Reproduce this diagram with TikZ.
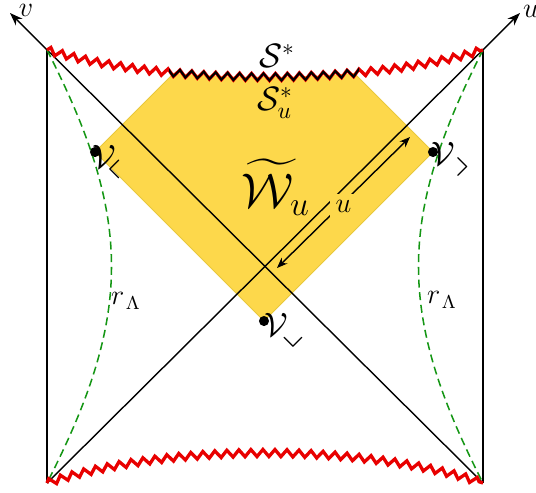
\documentclass[tikz,border=0pt]{standalone}
\usepackage{amssymb}
\usetikzlibrary{decorations.pathmorphing,arrows.meta}
\definecolor{wyellow}{RGB}{253,216,75}
\definecolor{wedge}{RGB}{232,200,60}
\definecolor{rgreen}{RGB}{20,150,20}
\definecolor{sred}{RGB}{232,0,0}
\newcommand{\angL}{\mkern-4mu\raisebox{-1pt}{\rotatebox[origin=c]{-45}{\scalebox{1.5}{$\scriptstyle\llcorner$}}}}
\newcommand{\angR}{\mkern-4mu\raisebox{-1pt}{\rotatebox[origin=c]{45}{\scalebox{1.5}{$\scriptstyle\lrcorner$}}}}
\newcommand{\angB}{\mkern-2mu\raisebox{-1pt}{\rotatebox[origin=c]{45}{\scalebox{1.5}{$\scriptstyle\llcorner$}}}}
\begin{document}
\begin{tikzpicture}[x=0.4255pt,y=-0.4255pt,
  axis/.style={-{Stealth[length=5.5pt,width=4pt]}, line width=0.6pt},
  meas/.style={{Stealth[length=4.5pt,width=3.5pt]}-{Stealth[length=4.5pt,width=3.5pt]}, line width=0.6pt},
  wall/.style={line width=0.55pt},
  rcurve/.style={rgreen, line width=0.65pt, dash pattern=on 3.4pt off 2pt},
  sing/.style={decorate, decoration={zigzag, segment length=5.1pt, amplitude=1.5pt}, line width=1.4pt, draw=sred},
  dot/.style={circle, fill=black, inner sep=0pt, minimum size=4.3pt},
  lab/.style={inner sep=0pt}]
\useasboundingbox (0,0) rectangle (536,492);
\coordinate (TL) at (47,50);
\coordinate (TR) at (483,50);
\coordinate (BL) at (47,483);
\coordinate (BR) at (483,483);
\coordinate (VT) at (10,13);
\coordinate (UT) at (520,13);
% yellow region
\begin{scope}
\clip (TL) .. controls (167,86) and (363,86) .. (TR) -- (483,492) -- (47,492) -- cycle;
\fill[wyellow, draw=wedge, line width=0.4pt] (264,-17) -- (95,152) -- (264,321) -- (433,152) -- cycle;
\end{scope}
% walls and axes
\draw[wall] (TL) -- (BL);
\draw[wall] (TR) -- (BR);
\draw[axis] (BR) -- (VT);
\draw[axis] (BL) -- (UT);
% r_Lambda curves
\draw[rcurve] (TL) .. controls (133,218) and (133,315) .. (BL);
\draw[rcurve] (TR) .. controls (397,218) and (397,315) .. (BR);
% singularities
\draw[sing] (TL) .. controls (167,86) and (363,86) .. (TR);
\draw[sing] (BL) .. controls (167,443) and (363,443) .. (BR);
\begin{scope}
\clip (169,0) rectangle (359,120);
\draw[sing, draw=black, line width=0.9pt] (TL) .. controls (167,86) and (363,86) .. (TR);
\end{scope}
% measurement arrow
\coordinate (ua) at (277,268);
\coordinate (ub) at (410,137);
\draw[meas] (ua) -- node[fill=wyellow, inner sep=2.5pt, yshift=-1.5pt] (ul) {\large$u$} (ub);
% points
\node[dot] (VL) at (95,152) {};
\node[dot] (VR) at (433,152) {};
\node[dot] (VB) at (264,321) {};
% labels
\node[lab] (lv) at (26,10) {\large$v$};
\node[lab] (lu) at (531,11) {\large$u$};
\node[lab] (lS) at (277,56) {\Large$\mathcal{S}^*$};
\node[lab] (lSu) at (275,103) {\Large$\mathcal{S}^*_u$};
\node[lab] (lW) at (276,187) {\huge$\widetilde{\mathcal{W}}_u$};
\node[lab] (lVL) at (112,163) {\Large$\mathcal{V}_{\angL}$};
\node[lab] (lVR) at (451,160) {\Large$\mathcal{V}_{\angR}$};
\node[lab] (lVB) at (285,331) {\Large$\mathcal{V}_{\angB}$};
\node[lab] (lrL) at (126,301) {\large$r_{\mkern2mu\Lambda}$};
\node[lab] (lrR) at (442,300) {\large$r_{\mkern2mu\Lambda}$};
\end{tikzpicture}
\end{document}
